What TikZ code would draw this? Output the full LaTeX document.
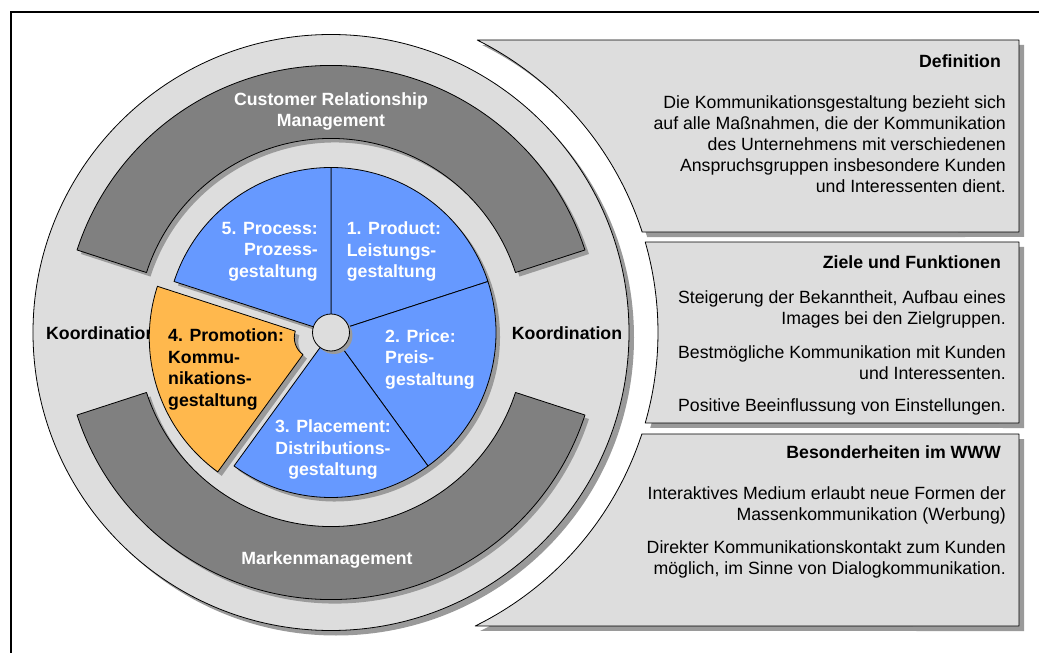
\documentclass[tikz,border=0pt]{standalone}
\usepackage{fontspec}
\setmainfont{Liberation Sans}
\definecolor{lgray}{HTML}{DDDDDD}
\definecolor{dgray}{HTML}{808080}
\definecolor{shd}{HTML}{9A9A9A}
\definecolor{pblue}{HTML}{6699FF}
\definecolor{porange}{HTML}{FFB84D}
\tikzset{
  outl/.style={draw=black, line width=0.8pt, line join=round},
  wlbl/.style={inner sep=0pt, text=white, font=\fontsize{17.7}{21.5}\selectfont\bfseries},
  blbl/.style={inner sep=0pt, text=black, font=\fontsize{17.7}{21.5}\selectfont\bfseries},
  phead/.style={inner sep=0pt, anchor=east, font=\fontsize{17.7}{21}\selectfont\bfseries},
  pbody/.style={inner sep=0pt, anchor=east, align=right, font=\fontsize{17.7}{21}\selectfont},
}
\newcommand\RingArc[2]{(#1:267) arc[start angle=#1, end angle=#2, radius=267] -- (#2:194) arc[start angle=#2, end angle=#1, radius=194] -- cycle}
\newcommand\OrangeWedge{(162:21) -- (162:166) arc[start angle=162, end angle=234, radius=166] -- (234:21) arc[start angle=234, end angle=162, radius=21] -- cycle}
\newcommand\PanelPath[2]{(688,#1) -- ({asin(#1/327)}:327) arc[start angle={asin(#1/327)}, end angle={asin(#2/327)}, radius=327] -- (688,#2) -- cycle}
\begin{document}
\begin{tikzpicture}[x=1pt,y=1pt]
\useasboundingbox (-331,332.5) rectangle (708,-320.5);
% frame
\draw[line width=2pt] (-320,-320.5) -- (-320,320.2) -- (708,320.2);
% outer disc
\fill[shd] (5,-5) circle[radius=298];
\filldraw[fill=lgray, outl] (0,0) circle[radius=298];
% dark rings
\begin{scope}[shift={(4,-4)}]
  \fill[shd] \RingArc{18}{162};
  \fill[shd] \RingArc{198}{342};
\end{scope}
\filldraw[fill=dgray, outl] \RingArc{18}{162};
\filldraw[fill=dgray, outl] \RingArc{198}{342};
\node[wlbl, align=center] (crm) at (0,221) {Customer Relationship\\Management};
\node[wlbl] (marken) at (-4,-227.5) {Markenmanagement};
\node[blbl, anchor=west] (koordL) at (-285,-0.5) {Koordination};
\node[blbl] (koordR) at (236,-0.5) {Koordination};
% blue pie
\fill[shd, shift={(4,-4)}] (0,0) -- (-126:165) arc[start angle=-126, end angle=162, radius=165] -- cycle;
\foreach \a in {18,90,-54,-126}{
  \filldraw[fill=pblue, outl] (0,0) -- (\a:165) arc[start angle=\a, end angle=\a+72, radius=165] -- cycle;
}
% orange wedge
\begin{scope}[shift={(198:16.5)}]
  \fill[shd, shift={(4,-4)}] \OrangeWedge;
  \filldraw[fill=porange, outl] \OrangeWedge;
\end{scope}
% hub
\fill[shd] (3,-3) circle[radius=18.5];
\filldraw[fill=lgray, outl] (0,0) circle[radius=18.5];
% wedge labels
\node[wlbl, anchor=east, align=right] (w5) at (-13,81) {5. Process:\\Prozess-\\gestaltung};
\node[wlbl, anchor=west, align=left] (w1) at (15.7,81) {1. Product:\\Leistungs-\\gestaltung};
\node[wlbl, anchor=west, align=left] (w2) at (54,-26.5) {2. Price:\\Preis-\\gestaltung};
\node[wlbl, align=center] (w3) at (2,-117) {3. Placement:\\Distributions-\\gestaltung};
\node[blbl, anchor=west, align=left] (w4) at (-163,-37) {4. Promotion:\\Kommu-\\nikations-\\gestaltung};
% panels
\fill[shd, shift={(5,-5)}] \PanelPath{292.5}{100.5};
\filldraw[fill=lgray, outl] \PanelPath{292.5}{100.5};
\fill[shd, shift={(5,-5)}] \PanelPath{90.5}{-90.5};
\filldraw[fill=lgray, outl] \PanelPath{90.5}{-90.5};
\fill[shd, shift={(5,-5)}] \PanelPath{-101.5}{-293.5};
\filldraw[fill=lgray, outl] \PanelPath{-101.5}{-293.5};
% panel texts
\node[phead] (h1) at (670,271.5) {Definition};
\node[pbody] (b1) at (675,188.5) {Die Kommunikationsgestaltung bezieht sich\\auf alle Maßnahmen, die der Kommunikation\\des Unternehmens mit verschiedenen\\Anspruchsgruppen insbesondere Kunden\\und Interessenten dient.};
\node[phead] (h2) at (670,70.5) {Ziele und Funktionen};
\node[pbody] (b2a) at (675,23.5) {Steigerung der Bekanntheit, Aufbau eines\\Images bei den Zielgruppen.};
\node[pbody] (b2b) at (675,-30) {Bestmögliche Kommunikation mit Kunden\\und Interessenten.};
\node[pbody] (b2c) at (675,-74.5) {Positive Beeinflussung von Einstellungen.};
\node[phead] (h3) at (670,-119.5) {Besonderheiten im WWW};
\node[pbody] (b3a) at (675,-172.5) {Interaktives Medium erlaubt neue Formen der\\Massenkommunikation (Werbung)};
\node[pbody] (b3b) at (675,-227) {Direkter Kommunikationskontakt zum Kunden\\möglich, im Sinne von Dialogkommunikation.};
\end{tikzpicture}
\end{document}
